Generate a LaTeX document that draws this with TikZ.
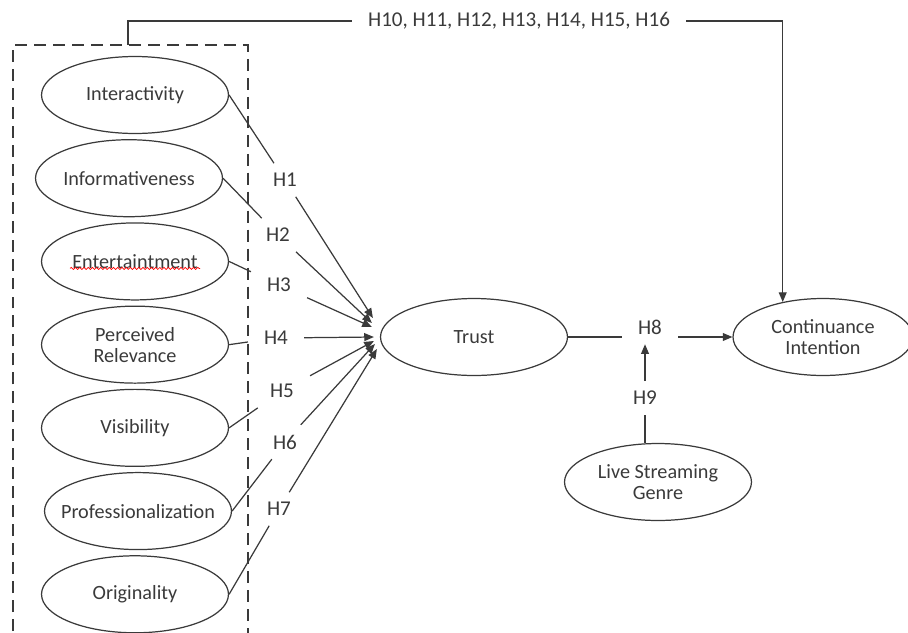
\documentclass[tikz,border=0pt]{standalone}
\usepackage{fontspec}
\setmainfont{Carlito}
\usetikzlibrary {arrows.meta,
                 positioning,
                 shapes.geometric,
                 decorations.pathmorphing}
\definecolor{ink}{HTML}{3A3A3A}
\tikzset{
        var/.style={ellipse, draw=ink, line width=0.7pt, align=center,
                    minimum width=3.74cm, minimum height=1.54cm,
                    inner xsep=-0.5cm, inner ysep=0pt,
                    text=ink, font=\fontsize{11.5}{12}\selectfont},
        hyp/.style={inner xsep=9pt, inner ysep=5.5pt, text=ink,
                    font=\fontsize{12}{14}\selectfont},
        link/.style={draw=ink, line width=0.7pt},
        myarrow/.style={link, -{Triangle[length=5.5pt, width=4.5pt]}},
        frame/.style={draw=ink, line width=0.9pt, dash pattern=on 6.8pt off 4pt},
        spell/.style={draw=red, line width=0.4pt, decorate,
                      decoration={snake, amplitude=0.6pt, segment length=2.4pt}},
 }
\begin{document}
\begin{tikzpicture}[x=0.02cm, y=-0.02cm]
    \useasboundingbox (0,0) rectangle (908,632);

    \draw[frame] (13,650) |- (248,45) -- (248,650);
    \coordinate (boxtop) at (128,45);

    \node[var] (int) at (135,95) {Interactivity};
    \node[var, below=0.1cm of int, xshift=-0.12cm] (inf) {Informativeness};
    \node[var, below=0.1cm of inf, xshift=0.12cm] (ent) {Entertaintment};
    \node[var, below=0.1cm of ent] (rel) {Perceived\\Relevance};
    \node[var, below=0.1cm of rel] (vis) {Visibility};
    \node[var, below=0.1cm of vis, xshift=0.06cm] (pro) {Professionalization};
    \node[var, below=0.1cm of pro, xshift=-0.06cm] (ori) {Originality};
    \draw[spell] ([shift={(-65,7)}]ent.center) -- ([shift={(65,7)}]ent.center);

    \node[var] (trust) at (474,337) {Trust};
    \node[var, minimum width=3.6cm] (ci) at (823,337) {Continuance\\Intention};
    \node[var] (lsg) at (658,482) {Live Streaming\\Genre};

    \node[hyp] (h1) at (285,180) {H1};
    \node[hyp] (h2) at (278,235) {H2};
    \node[hyp] (h3) at (279,285) {H3};
    \node[hyp] (h4) at (276,338) {H4};
    \node[hyp] (h5) at (282,391) {H5};
    \node[hyp] (h6) at (285,442) {H6};
    \node[hyp] (h7) at (279,509) {H7};
    \node[hyp] (h8) at (650,327) {H8};
    \node[hyp] (h9) at (645,398) {H9};
    \node[hyp] (hx) at (519,21) {H10, H11, H12, H13, H14, H15, H16};

    \draw[link] (int.east) -- (h1);
    \draw[myarrow] (h1) -- ([shift={(-7,-19)}]trust.west);
    \draw[link] (inf.east) -- (h2);
    \draw[myarrow] (h2) -- ([shift={(-8,-14)}]trust.west);
    \draw[link] (ent.east) -- (h3);
    \draw[myarrow] (h3) -- ([shift={(-8,-10)}]trust.west);
    \draw[link] (rel.east) -- (h4);
    \draw[myarrow] (h4) -- ([shift={(-6,0)}]trust.west);
    \draw[link] (vis.east) -- (h5);
    \draw[myarrow] (h5) -- ([shift={(-6,4)}]trust.west);
    \draw[link] (pro.east) -- (h6);
    \draw[myarrow] (h6) -- ([shift={(-5,7)}]trust.west);
    \draw[link] (ori.east) -- (h7);
    \draw[myarrow] (h7) -- ([shift={(-3,12)}]trust.west);

    \draw[link] (trust.east) -- (trust.east -| h8.west);
    \draw[myarrow] (h8.east |- ci.west) -- (ci.west);
    \draw[link] (h9 |- lsg.north) -- (h9);
    \draw[myarrow] (h9) -- (h9 |- h8.south);

    \draw[link] (boxtop) |- (hx.west);
    \draw[myarrow] (hx.east) -| (ci.139);
\end{tikzpicture}
\end{document}
